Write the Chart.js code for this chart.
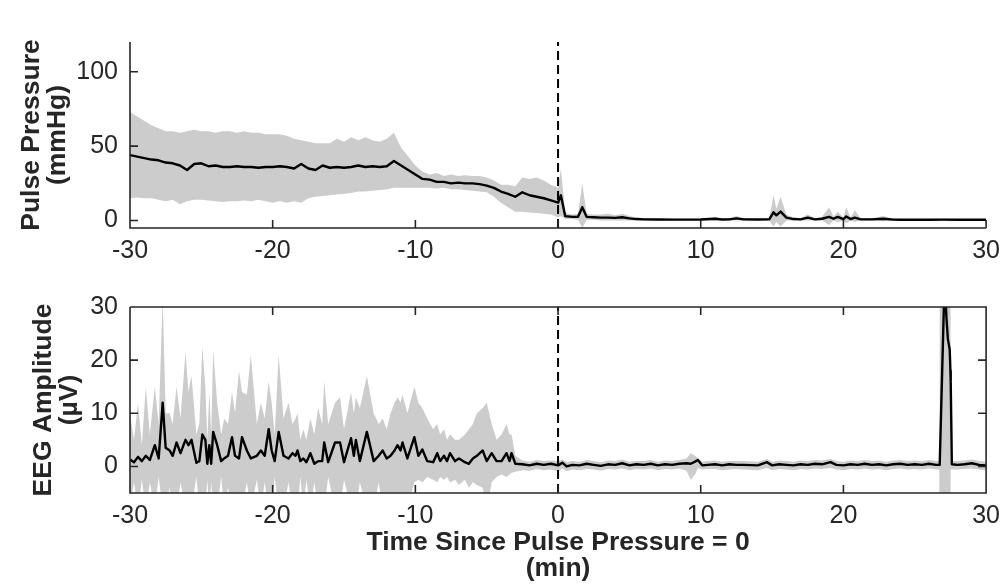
<!DOCTYPE html>
<html>
<head>
<meta charset="utf-8">
<script src="https://cdn.jsdelivr.net/npm/chart.js@4.4.1/dist/chart.umd.min.js"></script>
<style>
  html, body { margin: 0; padding: 0; background: #ffffff; }
  body { width: 1008px; height: 584px; position: relative; overflow: hidden; }
  #top { position: absolute; left: 0; top: 0; width: 1008px; height: 260px; }
  #bot { position: absolute; left: 0; top: 260px; width: 1008px; height: 324px; }
</style>
</head>
<body>
<div id="top"><canvas id="c1"></canvas></div>
<div id="bot"><canvas id="c2"></canvas></div>
<script>
// ---------- Data ----------
const xTicks = [-30, -20, -10, 0, 10, 20, 30];
const ppTicks = [0, 50, 100];
const eegTicks = [0, 10, 20, 30];
const markerTime = [0];

// Pulse pressure (mmHg): time (min), mean, upper and lower band
const ppTime = [-30,-29.5,-29,-28.5,-28,-27.5,-27,-26.5,-26,-25.5,-25,-24.5,-24,-23.5,-23,-22.5,-22,-21.5,-21,-20.5,
  -20,-19.5,-19,-18.5,-18,-17.5,-17,-16.5,-16,-15.5,-15,-14.5,-14,-13.5,-13,-12.5,-12,-11.5,-11,-10.5,
  -10,-9.5,-9,-8.5,-8,-7.5,-7,-6.5,-6,-5.5,-5,-4.5,-4,-3.5,-3,-2.5,-2,-1.5,-1,-0.5,0,
  0.2,0.5,1,1.4,1.7,2,2.5,3,3.5,4,4.5,5,5.5,6,7,8,9,10,11,11.5,12,12.5,13,14,14.8,15.1,15.3,15.6,16,16.5,
  17,17.5,18,18.5,19,19.3,19.6,20,20.2,20.5,20.8,21.2,22,22.8,23.5,24,25,26,27,28,29,30];
const ppMean = [44,43,42,41,40.5,39,38.5,37,34,38,38.5,36.5,37,36,36,36.5,36,36,35.5,36,
  36,36.5,36,35,38,35,34,37,35.5,36,35.5,36,37,36,36.5,36,36.5,40,37,34,
  31,28,27.5,26,26,25,25.5,25,25,24.5,23.5,22,19.5,18,16,19,17,16,15,13.5,12,
  17,3,2.5,2.5,9,2.5,2.2,2,2,1.8,2.2,1.5,1,0.8,0.7,0.6,0.6,0.7,1.2,0.7,0.8,1.5,0.8,0.7,0.8,5.5,3.5,6,2,1,
  0.8,2,0.8,1.2,2.5,1.2,2.5,1,2.8,1,2,0.8,0.8,1.2,0.6,0.5,0.5,0.5,0.6,0.5,0.5,0.5];
const ppUpper = [73,70,67,64,62,60,60,59,60,61,60,60,59,60,60,59,60,59,59,58,
  58,58,57,55,54,53,52,52,52,55,53,56,54,56,54,53,55,59,49,43,
  37,33,31,32,30,31,30,30.5,30,30,29,27,24,24,23,29,28,29,27,24,22,
  35,5,4,4.5,25,4.5,4,4,4.5,3.5,4.5,3,2,1.5,1.3,1.2,1.2,1.3,2.5,1.3,1.5,3,1.5,1.3,1.5,17,8,16,4,2,
  1.5,4,1.5,2.5,9,2.5,6,2,9,2,7,1.5,1.5,3,1.2,1,1,1,1.2,1,1,1];
const ppLower = [15,15.5,15,15,14,13,14,11,13,14,14,13.5,13,12.5,13,13,13.5,13,14,13,
  12,13,12,13,12,15,16,16.5,17,17.5,18,18.5,19.5,19.5,20,20.5,21,22,22,22,
  22,22,22,21.5,22,21,21,20.5,20,19.5,19,16,12,9,6,6,5.5,5,4.5,4,2,
  3,1,1,0.5,-5,0.5,0.5,0,0,0,0,0,0,0,0.1,0,0,0.1,0,0.1,0.1,0,0.1,0.1,0.1,-4,-1,-4,0,0,
  0.1,0,0.1,0,-3,0,-1,0,-2,0,-1,0.1,0.1,-0.5,0.1,0.1,0.1,0.1,0.1,0.1,0.1,0.1];

// EEG amplitude (µV): time (min), mean, upper and lower band
const eegTime = [-30,-29.72,-29.44,-29.17,-28.89,-28.61,-28.26,-27.99,-27.71,-27.5,-27.22,-27.01,-26.74,-26.46,-26.11,-25.9,-25.69,-25.35,-25.14,-24.93,
  -24.72,-24.58,-24.44,-24.31,-24.17,-23.89,-23.61,-23.4,-23.13,-22.85,-22.64,-22.36,-22.15,-21.81,-21.53,-21.11,-20.83,-20.56,-20.28,-20.07,
  -19.86,-19.58,-19.24,-18.89,-18.61,-18.4,-18.26,-18.06,-17.85,-17.64,-17.36,-17.08,-16.81,-16.53,-16.39,-16.11,-15.63,-15.28,-15,-14.51,
  -14.31,-14.17,-13.89,-13.4,-12.92,-12.57,-12.29,-12.01,-11.74,-11.46,-11.25,-11.04,-10.9,-10.56,-10.07,-9.79,-9.51,-9.17,-8.75,-8.47,
  -8.26,-7.99,-7.78,-7.57,-7.22,-6.94,-6.53,-6.25,-5.97,-5.69,-5.28,-5,-4.65,-4.31,-3.96,-3.61,-3.4,-3.26,-2.99,
  -2.5,-2,-1.5,-1,-0.5,0,0.3,0.6,1,1.5,2,2.5,3,3.5,4,4.5,5,5.5,6,6.5,7,7.5,8,8.5,9,9.3,9.6,9.8,10.1,10.5,
  11,11.5,12,12.5,13,14,14.65,15,15.5,16,16.5,17,17.5,18,18.5,19.1,19.5,20,20.5,21,21.5,22,22.5,23,23.5,24,24.5,25,25.5,26,26.5,
  26.72,26.75,27.1,27.22,27.32,27.45,27.5,27.52,27.6,28,28.5,29,29.5,30];
const eegMean = [1.3,0.8,1.8,1,2,1.2,4,1.5,12,3.5,3,2,4.5,2.5,5,4,5,0.7,1,6,
  5,0.5,4,0.5,6.5,4,1,1.5,2,5.5,2,1.5,5.5,3,1.5,2,3,2,7,3,
  1,6.5,2,1.5,2.5,2,3,1,1.5,0.8,2.5,0.5,1,1,4.5,0.8,4.5,4.5,0.8,5.3,
  2,5,1,6.5,1,2,3,1.5,2,3,4,3,4.5,1.5,5.5,2,3.2,1,0.8,2.5,
  1,2,1,2.5,1,1.5,0.8,0.5,1.5,2,3,1,2.5,1,1,2.5,1,2.5,0.5,
  0.4,0.2,0.5,0.3,0.5,0.2,0.7,0,0.3,0.2,0.5,0.3,0.1,0.4,0.3,0.6,0.2,0.4,0.3,0.5,0.2,0.4,0.3,0.5,0.6,0.5,0.9,1.2,0.2,0.3,
  0.4,0.2,0.4,0.3,0.3,0.2,0.8,0.2,0.4,0.3,0.2,0.4,0.3,0.5,0.4,0.8,0.3,0.2,0.4,0.3,0.5,0.3,0.4,0.2,0.4,0.5,0.3,0.4,0.3,0.5,0.3,
  0.3,0.5,36,28,24,22,18,16,0.4,0.3,0.4,0.6,0.3,0.2];
const eegUpper = [10,5,12,4,15,6,15,8,32,10,10,8,15,9,21.5,14,17,6,8,22.5,
  15,5,14,6,22,12,6,9,8,14,10,18,14,13.5,21,8,12,9,16,12,
  6,21,9,12,8,9,10,5,7,5,9,6,11,8,16,8,12,13,7,14,
  10,13,11,17,10,8,9,7,10,12,13,12,13.5,10,15,12,11,9,7,8,
  6,7,5,6,5,5,6,7,8,10,11,12,8,5,6,8,6,6,2,
  1.1,0.9,1.2,1,1.1,1,1.3,0.8,1,0.9,1.2,1,0.8,1.1,1,1.3,0.9,1,1,1.2,0.9,1.1,1,1.2,1.5,2.5,2,1.6,0.9,1,
  1.1,0.9,1,1,1,0.9,1.4,0.9,1.1,1,0.9,1.1,1,1.2,1.1,1.4,1,0.9,1.1,1,1.2,1,1.1,0.9,1.1,1.2,1,1.1,1,1.2,1,
  1,45,45,45,45,45,45,1.1,1,1,1.1,1.3,1,0.9];
const eegLower = [-8,-3,-8,-2.5,-8,-3,-8,-2,-8,-8,-4,-8,-8,-3,-8,-8,-8,-2,-8,-8,
  -8,-2.5,-8,-3,-8,-8,-2,-8,-4,-8,-8,-8,-8,-3,-8,-2.5,-8,-3,-8,-8,
  -2,-8,-8,-3,-8,-8,-8,-2,-8,-2.5,-8,-3,-8,-8,-8,-2,-8,-8,-2.5,-8,
  -8,-8,-3,-8,-8,-3,-8,-8,-8,-8,-8,-8,-8,-8,-3,-2.5,-3,-2,-2.5,-3,
  -2,-2.5,-2,-3,-2.5,-3.5,-2.5,-4,-3,-3.5,-4,-8,-3,-2,-1.5,-2,-1.5,-1.2,-1,
  -0.7,-0.8,-0.5,-0.7,-0.6,-0.9,-0.4,-0.9,-0.6,-0.7,-0.5,-0.6,-0.8,-0.5,-0.6,-0.4,-0.7,-0.5,-0.6,-0.4,-0.7,-0.5,-0.6,-0.4,-0.8,-2.5,-1.5,-0.3,-0.6,-0.5,
  -0.5,-0.7,-0.6,-0.5,-0.6,-0.7,-0.3,-0.7,-0.5,-0.6,-0.7,-0.5,-0.6,-0.4,-0.5,-0.3,-0.6,-0.7,-0.5,-0.6,-0.4,-0.6,-0.5,-0.7,-0.5,-0.4,-0.6,-0.5,-0.6,-0.4,-0.6,
  -0.6,-8,-8,-8,-8,-8,-8,-0.6,-0.6,-0.6,-0.5,-0.4,-0.6,-0.7];

// ---------- Styling ----------
const FONT = "'Liberation Sans', Arial, Helvetica, sans-serif";
const AXIS_COLOR = '#262626';
const BAND_COLOR = '#cccccc';

function pts(xs, ys) { return xs.map((x, i) => ({ x: x, y: ys[i] })); }

function inwardAxesPlugin(boxed) {
  return {
    id: 'inwardAxes',
    afterDraw(chart) {
      const ctx = chart.ctx, a = chart.chartArea;
      const xs = chart.scales.x, ys = chart.scales.y;
      const L = 8;
      ctx.save();
      ctx.strokeStyle = AXIS_COLOR;
      ctx.lineWidth = 1.6;
      ctx.lineCap = 'butt';
      ctx.beginPath();
      ctx.moveTo(a.left, a.top); ctx.lineTo(a.left, a.bottom); ctx.lineTo(a.right, a.bottom);
      if (boxed) { ctx.lineTo(a.right, a.top); ctx.lineTo(a.left, a.top); }
      xs.ticks.forEach(t => {
        const px = xs.getPixelForValue(t.value);
        ctx.moveTo(px, a.bottom); ctx.lineTo(px, a.bottom - L);
        if (boxed) { ctx.moveTo(px, a.top); ctx.lineTo(px, a.top + L); }
      });
      ys.ticks.forEach(t => {
        const py = ys.getPixelForValue(t.value);
        ctx.moveTo(a.left, py); ctx.lineTo(a.left + L, py);
        if (boxed) { ctx.moveTo(a.right, py); ctx.lineTo(a.right - L, py); }
      });
      ctx.stroke();
      ctx.restore();
    }
  };
}

function makePanel(canvasId, cfg) {
  // note: lower "order" is drawn on top
  const datasets = [
    { data: pts(cfg.time, cfg.upper), borderWidth: 0, borderColor: 'rgba(0,0,0,0)', order: 3,
      backgroundColor: BAND_COLOR, fill: { target: 1 }, pointRadius: 0, tension: 0 },
    { data: pts(cfg.time, cfg.lower), borderWidth: 0, borderColor: 'rgba(0,0,0,0)', order: 4,
      fill: false, pointRadius: 0, tension: 0 },
    { data: pts(cfg.time, cfg.mean), borderWidth: 2.4, borderColor: '#000000', order: 1,
      borderJoinStyle: 'round', fill: false, pointRadius: 0, tension: 0 },
    { data: [{ x: markerTime[0], y: cfg.yMin }, { x: markerTime[0], y: cfg.yMax }], order: 0,
      borderWidth: 2, borderColor: '#000000', borderDash: [9, 5], fill: false, pointRadius: 0 }
  ];
  return new Chart(document.getElementById(canvasId), {
    type: 'line',
    data: { datasets: datasets },
    options: {
      responsive: true,
      maintainAspectRatio: false,
      animation: false,
      events: [],
      layout: { padding: { top: cfg.padTop, right: 13, left: 0, bottom: 0 } },
      plugins: { legend: { display: false }, tooltip: { enabled: false } },
      scales: {
        x: {
          type: 'linear', min: -30, max: 30,
          afterBuildTicks: s => { s.ticks = xTicks.map(v => ({ value: v })); },
          afterFit: s => { s.height = cfg.xHeight; },
          grid: { display: false, drawTicks: false },
          border: { display: false },
          ticks: { color: AXIS_COLOR, font: { family: FONT, size: 25 }, padding: 8, maxRotation: 0 },
          title: cfg.xTitle ? { display: true, text: cfg.xTitle, color: AXIS_COLOR,
            font: { family: FONT, size: 26.5, weight: 'bold', lineHeight: 1.0 }, padding: { top: 0, bottom: 2 } } : { display: false }
        },
        y: {
          type: 'linear', min: cfg.yMin, max: cfg.yMax,
          afterBuildTicks: s => { s.ticks = cfg.yTicks.map(v => ({ value: v })); },
          afterFit: s => { s.width = 130; },
          grid: { display: false, drawTicks: false },
          border: { display: false },
          ticks: { color: AXIS_COLOR, font: { family: FONT, size: 25 }, padding: 12 },
          title: { display: true, text: cfg.yTitle, color: AXIS_COLOR,
            font: { family: FONT, size: 26.5, weight: 'bold', lineHeight: 1.0 }, padding: { top: cfg.yTitlePad, bottom: 0 } }
        }
      }
    },
    plugins: [inwardAxesPlugin(cfg.boxed)]
  });
}

makePanel('c1', {
  time: ppTime, mean: ppMean, upper: ppUpper, lower: ppLower,
  yMin: -5, yMax: 120, yTicks: ppTicks, yTitle: ['Pulse Pressure', '(mmHg)'], yTitlePad: 18,
  padTop: 42, xHeight: 32, xTitle: null, boxed: false
});
makePanel('c2', {
  time: eegTime, mean: eegMean, upper: eegUpper, lower: eegLower,
  yMin: -5, yMax: 30, yTicks: eegTicks, yTitle: ['EEG Amplitude', '(µV)'], yTitlePad: 30,
  padTop: 47, xHeight: 91, xTitle: ['Time Since Pulse Pressure = 0', '(min)'], boxed: true
});
</script>
</body>
</html>
